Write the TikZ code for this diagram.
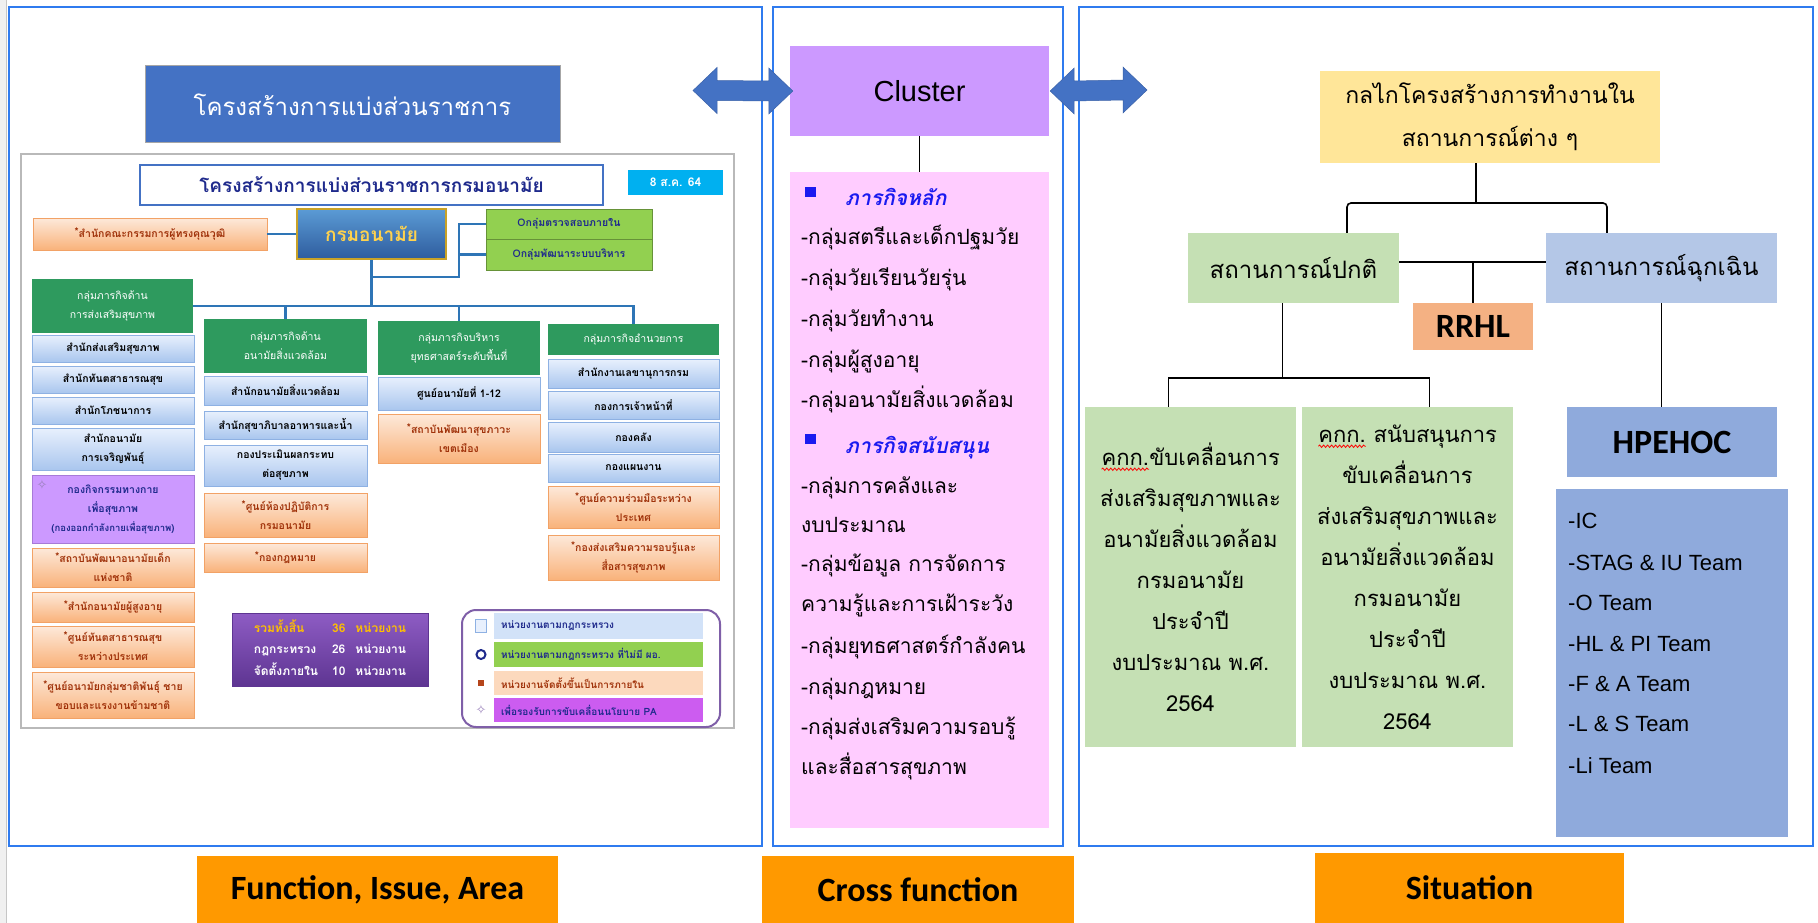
\documentclass[tikz,border=0pt]{standalone}
\usepackage{fontspec}
\setmainfont{Liberation Sans}
\newfontfamily\thai[Script=Thai]{Loma}
\newfontfamily\calib{Carlito}
\newfontfamily\symb{DejaVu Sans}
\usepackage{xcolor}
\usepackage{tikz}
\usetikzlibrary{positioning}
\usetikzlibrary{calc}
\usetikzlibrary{decorations.pathmorphing}

\definecolor{panelblue}{HTML}{2F7BEF}
\definecolor{arrowblue}{HTML}{4472C4}
\definecolor{clusterpurple}{HTML}{CC99FF}
\definecolor{listpink}{HTML}{FFCCFF}
\definecolor{mechyellow}{HTML}{FFE699}
\definecolor{normalgreen}{HTML}{C5E0B4}
\definecolor{emergblue}{HTML}{B4C7E7}
\definecolor{rrhlorange}{HTML}{F4B183}
\definecolor{teamblue}{HTML}{8FAADC}
\definecolor{tagorange}{HTML}{FF9900}
\definecolor{headblue}{HTML}{1A1AF0}
\definecolor{hdrgreen}{HTML}{2E9A5E}
\definecolor{linkblue}{HTML}{2E75B6}
\definecolor{unittop}{HTML}{E8F0FD}
\definecolor{unitbot}{HTML}{A9C6EE}
\definecolor{unitedge}{HTML}{8EB1E3}
\definecolor{inntop}{HTML}{FDE9DA}
\definecolor{innbot}{HTML}{F9B27A}
\definecolor{innedge}{HTML}{F2A266}
\definecolor{inntext}{HTML}{A0320A}
\definecolor{pagreen}{HTML}{92D050}
\definecolor{papurple}{HTML}{CC99FF}
\definecolor{paedge}{HTML}{A77AD8}
\definecolor{sumtop}{HTML}{8E5CC4}
\definecolor{sumbot}{HTML}{5E3592}
\definecolor{sumgold}{HTML}{FFC000}
\definecolor{deptgold}{HTML}{C9A227}
\definecolor{depttext}{HTML}{FFD24D}
\definecolor{depttop}{HTML}{5B9BD5}
\definecolor{deptbot}{HTML}{2E5C9E}
\definecolor{titlenavy}{HTML}{1F2A8C}
\definecolor{datecyan}{HTML}{00B0F0}
\definecolor{legpurple}{HTML}{7F5FA8}
\definecolor{legblue}{HTML}{D2E2F8}
\definecolor{legpeach}{HTML}{FCD9BD}
\definecolor{legmagenta}{HTML}{CC5CF0}
\definecolor{brownmark}{HTML}{B5451B}

\newcommand{\fs}[2]{\fontsize{#1}{#2}\selectfont}
\newcommand{\inmark}{\raisebox{2pt}{*}}
\newcommand{\squig}[1]{\tikz[baseline=(sq.base)]{\node[inner sep=0pt,outer sep=0pt,minimum width=0pt,minimum height=0pt,
    fill=none,draw=none] (sq) {#1};
  \draw[red,line width=0.8pt,decorate,decoration={snake,amplitude=1.2pt,segment length=4pt}]
    ([yshift=-4pt]sq.south west) -- ([yshift=-4pt]sq.south east);}}
% block arrow with a head at both tips
\newcommand{\dblarrow}[2]{%
  \filldraw[fill=arrowblue,draw=arrowblue!85!black,line width=0.5pt]
    (#1) -- ++(24,-23) -- ++(0,13) -- ($(#2)+(-24,-10)$) -- ++(0,-13) -- (#2)
    -- ++(-24,23) -- ++(0,-13) -- ($(#1)+(24,10)$) -- ++(0,13) -- cycle;}

\tikzstyle{panelframe}=[draw=panelblue,line width=2pt]
\tikzstyle{tagbox}=[fill=tagorange,inner sep=0pt,font=\calib\bfseries\fs{34}{40}]
\tikzstyle{flatbox}=[inner sep=0pt,align=center]
\tikzstyle{treeline}=[draw,line width=1.6pt]
\tikzstyle{orgline}=[draw=linkblue,line width=2.2pt]
\tikzstyle{hdrbox}=[fill=hdrgreen,text=white,inner sep=0pt,align=center,font=\thai\fs{10.5}{19}]
\tikzstyle{unitbox}=[top color=unittop,bottom color=unitbot,draw=unitedge,line width=0.8pt,inner sep=0pt,align=center,font=\thai\bfseries\fs{10.5}{19}]
\tikzstyle{inbox}=[top color=inntop,bottom color=innbot,draw=innedge,line width=0.8pt,text=inntext,inner sep=0pt,align=center,font=\thai\bfseries\fs{10.5}{19}]
\tikzstyle{pabox}=[fill=papurple,draw=paedge,line width=0.8pt,text=titlenavy,inner sep=0pt,align=center,font=\thai\bfseries\fs{10.5}{19}]
\tikzstyle{tasktext}=[anchor=base west,inner sep=0pt,font=\thai\fs{21}{25}]
\tikzstyle{taskhead}=[tasktext,text=headblue,font=\thai\bfseries\itshape\fs{21}{25}]
\tikzstyle{teamtext}=[anchor=base west,inner sep=0pt,font=\fs{22}{26}]
\tikzstyle{legbar}=[inner xsep=7pt,inner ysep=0pt,text width=195pt,align=left,font=\thai\bfseries\fs{10}{12}]

\begin{document}
\begin{tikzpicture}[x=1pt,y=-1pt]
  \useasboundingbox (0,0) rectangle (1818,923);

  \fill[gray!12] (0,0) rectangle (6,923);
  \draw[gray!45,line width=1pt] (6,0) -- (6,923);

  % the three panels
  \draw[panelframe] (9,7) rectangle (762,846);
  \draw[panelframe] (773,7) rectangle (1063,846);
  \draw[panelframe] (1079,7) rectangle (1813,846);

  % ---------- left panel ----------
  \node[flatbox,fill=arrowblue,draw=gray!70,line width=1pt,minimum width=415pt,minimum height=77pt,
        text=white,font=\thai\fs{24}{28}] (divtitle) at (352.5,104.5) {โครงสร้างการแบ่งส่วนราชการ};

  \draw[gray!55,line width=1.5pt] (21,154) rectangle (734,728);

  \node[flatbox,fill=white,draw=arrowblue,line width=1.5pt,minimum width=463pt,minimum height=40pt,
        text=titlenavy,font=\thai\bfseries\fs{19}{22}] (orgtitle) at (371.5,185) {โครงสร้างการแบ่งส่วนราชการกรมอนามัย};
  \node[flatbox,fill=datecyan,minimum width=95pt,minimum height=25pt,text=white,
        font=\thai\bfseries\fs{12}{14}] (date) at (675.5,182.5) {8 ส.ค. 64};
  \node[flatbox,top color=depttop,bottom color=deptbot,draw=deptgold,line width=1.5pt,
        minimum width=149pt,minimum height=50pt,text=depttext,font=\thai\bfseries\fs{19}{22}] (dept) at (371.5,234) {กรมอนามัย};
  \node[flatbox,fill=pagreen,draw=pagreen!70!black,line width=0.8pt,minimum width=166pt,minimum height=30pt,
        text=titlenavy,font=\thai\bfseries\fs{10.5}{12}] (ppa1) at (569,224) {\textbf{O}กลุ่มตรวจสอบภายใน};
  \node[flatbox,fill=pagreen,draw=pagreen!70!black,line width=0.8pt,minimum width=166pt,minimum height=31pt,
        text=titlenavy,font=\thai\bfseries\fs{10.5}{12}] (ppa2) at (569,254.5) {\textbf{O}กลุ่มพัฒนาระบบบริหาร};

  \foreach \xa/\ya/\xb/\yb/\name/\label in {
      32/279/193/333/hA/{กลุ่มภารกิจด้าน\\การส่งเสริมสุขภาพ},
      204/319/367/373/hB/{กลุ่มภารกิจด้าน\\อนามัยสิ่งแวดล้อม},
      378/321/540/375/hC/{กลุ่มภารกิจบริหาร\\ยุทธศาสตร์ระดับพื้นที่},
      548/324/719/355/hD/{กลุ่มภารกิจอำนวยการ}}
    \node[hdrbox,minimum width={(\xb-\xa)*1pt},minimum height={(\yb-\ya)*1pt}] (\name) at ({(\xa+\xb)/2},{(\ya+\yb)/2}) {\label};

  \foreach \xa/\ya/\xb/\yb/\name/\label in {
      32/335/194/362/uA1/{สำนักส่งเสริมสุขภาพ},
      32/366/194/393/uA2/{สำนักทันตสาธารณสุข},
      32/397/194/424/uA3/{สำนักโภชนาการ},
      32/428/194/470/uA4/{สำนักอนามัย\\การเจริญพันธุ์},
      204/376/367/405/uB1/{สำนักอนามัยสิ่งแวดล้อม},
      204/411/367/439/uB2/{สำนักสุขาภิบาลอาหารและน้ำ},
      204/445/367/486/uB3/{กองประเมินผลกระทบ\\ต่อสุขภาพ},
      378/377/540/410/uC1/{ศูนย์อนามัยที่ 1-12},
      548/359/719/388/uD1/{สำนักงานเลขานุการกรม},
      548/391/719/419/uD2/{กองการเจ้าหน้าที่},
      548/422/719/452/uD3/{กองคลัง},
      548/454/719/482/uD4/{กองแผนงาน}}
    \node[unitbox,minimum width={(\xb-\xa)*1pt},minimum height={(\yb-\ya)*1pt}] (\name) at ({(\xa+\xb)/2},{(\ya+\yb)/2}) {\label};

  \foreach \xa/\ya/\xb/\yb/\name/\label in {
      33/218/267/250/board/{\inmark สำนักคณะกรรมการผู้ทรงคุณวุฒิ},
      32/548/194/587/iA1/{\inmark สถาบันพัฒนาอนามัยเด็ก\\แห่งชาติ},
      32/592/194/622/iA2/{\inmark สำนักอนามัยผู้สูงอายุ},
      32/626/194/667/iA3/{\inmark ศูนย์ทันตสาธารณสุข\\ระหว่างประเทศ},
      32/672/194/718/iA4/{\inmark ศูนย์อนามัยกลุ่มชาติพันธุ์ ชาย\\ขอบและแรงงานข้ามชาติ},
      204/493/367/537/iB1/{\inmark ศูนย์ห้องปฏิบัติการ\\กรมอนามัย},
      204/543/367/572/iB2/{\inmark กองกฎหมาย},
      378/414/540/463/iC1/{\inmark สถาบันพัฒนาสุขภาวะ\\เขตเมือง},
      548/486/719/528/iD1/{\inmark ศูนย์ความร่วมมือระหว่าง\\ประเทศ},
      548/535/719/580/iD2/{\inmark กองส่งเสริมความรอบรู้และ\\สื่อสารสุขภาพ}}
    \node[inbox,minimum width={(\xb-\xa)*1pt},minimum height={(\yb-\ya)*1pt}] (\name) at ({(\xa+\xb)/2},{(\ya+\yb)/2}) {\label};

  \node[pabox,minimum width=162pt,minimum height=68pt] (pA) at (113,509) {กองกิจกรรมทางกาย\\เพื่อสุขภาพ\\{\fs{9.5}{19}(กองออกกำลังกายเพื่อสุขภาพ)}};
  \node[text=legpurple!80,font=\symb\fs{13}{13},inner sep=0pt] (pamark) at (42,485) {✧};

  % org chart links
  \coordinate (brk) at (459,277);
  \draw[orgline] (board.east) -- (dept.west);
  \draw[orgline] (dept.south) -- (dept.south |- hA.east);
  \draw[orgline] (hA.east) -- (hA.east -| hD.north) -- (hD.north);
  \draw[orgline] (hB.north |- hA.east) -- (hB.north);
  \draw[orgline] (hC.north |- hA.east) -- (hC.north);
  \draw[orgline] (dept.south |- brk) -- (brk) -- (brk |- ppa1.west) -- (ppa1.west);
  \draw[orgline] (brk |- ppa2.west) -- (ppa2.west);

  % totals and legend
  \node[flatbox,top color=sumtop,bottom color=sumbot,draw=sumbot,minimum width=196pt,minimum height=73pt,
        text=white,font=\thai\bfseries\fs{12}{21.5}] (total) at (330,649.5)
       {\begin{tabular}{@{}l@{\hspace{14pt}}c@{\hspace{10pt}}l@{}}
        \color{sumgold}รวมทั้งสิ้น & \color{sumgold}36 & \color{sumgold}หน่วยงาน\\
        กฎกระทรวง & 26 & หน่วยงาน\\
        จัดตั้งภายใน & 10 & หน่วยงาน
        \end{tabular}};

  \draw[legpurple,line width=2pt,rounded corners=14pt] (462,610) rectangle (720,727);
  \foreach \y/\h/\fillc/\textc/\name/\label in {
      626/26/legblue/titlenavy/leg1/{หน่วยงานตามกฎกระทรวง},
      654.5/25/pagreen/titlenavy/leg2/{หน่วยงานตามกฎกระทรวง ที่ไม่มี ผอ.},
      683/24/legpeach/inntext/leg3/{หน่วยงานจัดตั้งขึ้นเป็นการภายใน},
      710/24/legmagenta/titlenavy/leg4/{เพื่อรองรับการขับเคลื่อนนโยบาย PA}}
    \node[legbar,fill=\fillc,text=\textc,minimum height=\h pt] (\name) at (598.5,\y) {\label};
  \node[draw=unitedge,fill=unittop,minimum width=11pt,minimum height=13pt,inner sep=0pt] (mk1) at (481,626) {};
  \node[circle,draw=titlenavy,line width=2pt,minimum size=9pt,inner sep=0pt] (mk2) at (481,654.5) {};
  \node[fill=brownmark,minimum size=6pt,inner sep=0pt] (mk3) at (481,683) {};
  \node[text=legpurple!80,font=\symb\fs{13}{13},inner sep=0pt] (mk4) at (481,710) {✧};

  % ---------- middle panel ----------
  \node[flatbox,fill=clusterpurple,minimum width=259pt,minimum height=90pt,font=\fs{29}{34}] (cluster) at (919.5,91) {Cluster};
  \node[flatbox,fill=listpink,minimum width=259pt,minimum height=656pt] (tasks) at (919.5,500) {};
  \draw[treeline] (cluster.south) -- (tasks.north);

  \node[taskhead] (core) at (805,205) {\raisebox{8pt}{\rule{11pt}{10pt}}\hspace{29pt}ภารกิจหลัก};
  \node[taskhead] (support) at (805,453) {\raisebox{9pt}{\rule{11pt}{10pt}}\hspace{29pt}ภารกิจสนับสนุน};
  \foreach \y/\label [count=\i] in {
      238/-กลุ่มสตรีและเด็กปฐมวัย, 279/-กลุ่มวัยเรียนวัยรุ่น, 320/-กลุ่มวัยทำงาน,
      361/-กลุ่มผู้สูงอายุ, 401/-กลุ่มอนามัยสิ่งแวดล้อม,
      487/-กลุ่มการคลังและ, 526/งบประมาณ, 565/-กลุ่มข้อมูล การจัดการ, 605/ความรู้และการเฝ้าระวัง,
      647/-กลุ่มยุทธศาสตร์กำลังคน, 688/-กลุ่มกฎหมาย, 728/-กลุ่มส่งเสริมความรอบรู้, 768/และสื่อสารสุขภาพ}
    \node[tasktext] (task\i) at (801,\y+6) {\label};

  % ---------- right panel ----------
  \node[flatbox,fill=mechyellow,minimum width=340pt,minimum height=92pt,font=\thai\fs{23}{43}] (mech) at (1490,117)
       {กลไกโครงสร้างการทำงานใน\\สถานการณ์ต่าง ๆ};
  \node[flatbox,fill=normalgreen,minimum width=211pt,minimum height=70pt,font=\thai\fs{24}{28}] (normal) at (1293.5,268) {สถานการณ์ปกติ};
  \node[flatbox,fill=emergblue,minimum width=231pt,minimum height=70pt,font=\thai\fs{24}{28}] (emerg) at (1661.5,268) {สถานการณ์ฉุกเฉิน};
  \node[flatbox,fill=rrhlorange,minimum width=120pt,minimum height=47pt,font=\calib\bfseries\fs{34}{38}] (rrhl) at (1473,326.5) {RRHL};
  \node[flatbox,fill=normalgreen,minimum width=211pt,minimum height=340pt,font=\thai\fs{22}{41}] (cmt1) at (1190.5,577)
       {\squig{คกก.}ขับเคลื่อนการ\\ส่งเสริมสุขภาพและ\\อนามัยสิ่งแวดล้อม\\กรมอนามัย\\ประจำปี\\งบประมาณ พ.ศ.\\2564};
  \node[flatbox,fill=normalgreen,minimum width=211pt,minimum height=340pt,font=\thai\fs{22}{41}] (cmt2) at (1407.5,577)
       {\squig{คกก.} สนับสนุนการ\\ขับเคลื่อนการ\\ส่งเสริมสุขภาพและ\\อนามัยสิ่งแวดล้อม\\กรมอนามัย\\ประจำปี\\งบประมาณ พ.ศ.\\2564};
  \node[flatbox,fill=teamblue,minimum width=210pt,minimum height=70pt,font=\calib\bfseries\fs{34}{38}] (hpehoc) at (1672,442) {HPEHOC};
  \node[flatbox,fill=teamblue,minimum width=232pt,minimum height=348pt] (teams) at (1672,663) {};
  \foreach \y/\label [count=\i] in {520/-IC, 562/-STAG \& IU Team, 602/-O Team, 643/-HL \& PI Team,
      683/-F \& A Team, 723/-L \& S Team, 765/-Li Team}
    \node[teamtext] (team\i) at (1568,\y+8) {\label};

  \coordinate (sitbus) at ([xshift=-14pt]mech.south |- 0,203);
  \coordinate (mid) at ($(normal.east)!0.5!(emerg.west)+(0,-6)$);
  \coordinate (cmtbus) at ([xshift=-11pt]normal.south |- 0,378);
  \draw[treeline] ([xshift=-14pt]mech.south) -- (sitbus);
  \draw[treeline,rounded corners=4pt] ([xshift=53.5pt]normal.north) |- (sitbus) -| ([xshift=-54.5pt]emerg.north);
  \draw[treeline] (normal.east |- mid) -- (emerg.west |- mid);
  \draw[treeline] (rrhl.north) -- (rrhl.north |- mid);
  \draw[treeline] ([xshift=-11pt]normal.south) -- (cmtbus);
  \draw[treeline] ([xshift=-22pt]cmt1.north) |- (cmtbus) -| ([xshift=22pt]cmt2.north);
  \draw[treeline] (emerg.south) -- (emerg.south |- hpehoc.north);

  % ---------- links between panels ----------
  \coordinate (divtip) at (693,90.5);
  \coordinate (clusterl) at ([xshift=3pt]cluster.west);
  \coordinate (clusterr) at ([xshift=1pt]cluster.east);
  \coordinate (mechtip) at (1147,90);
  \dblarrow{divtip}{clusterl}
  \dblarrow{clusterr}{mechtip}

  % ---------- bottom tags ----------
  \node[tagbox,minimum width=361pt,minimum height=67pt] (tagfunc) at (377.5,889.5) {Function, Issue, Area};
  \node[tagbox,minimum width=312pt,minimum height=67pt] (tagcross) at (918,889.5) {Cross function};
  \node[tagbox,minimum width=309pt,minimum height=70pt] (tagsit) at (1469.5,888) {Situation};
\end{tikzpicture}
\end{document}
